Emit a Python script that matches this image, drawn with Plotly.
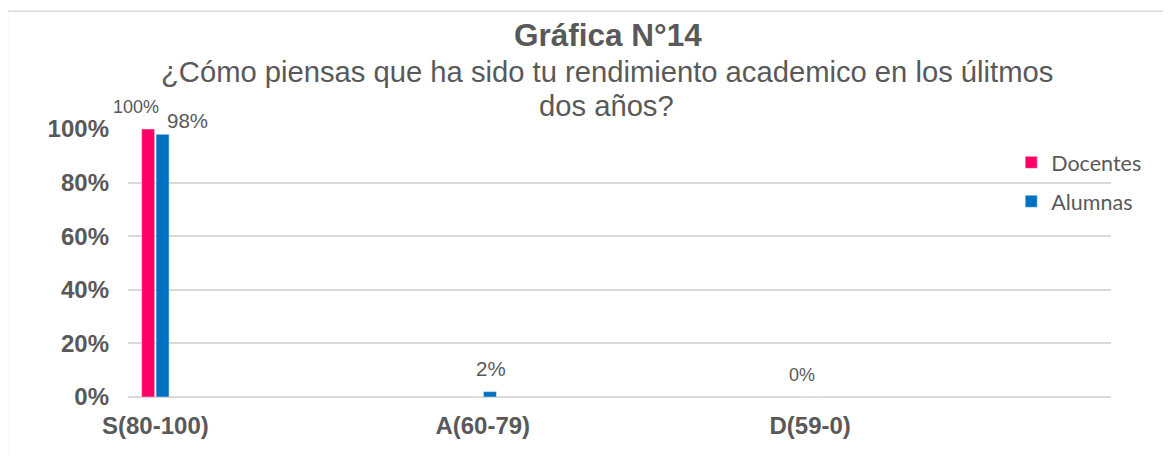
import plotly.graph_objects as go

categories = ["S(80-100)", "A(60-79)", "D(59-0)"]
docentes = [1.00, 0.0, 0.0]
alumnas = [0.98, 0.02, 0.0]
docentes_labels = ["100%", "", "0%"]
alumnas_labels = ["98%", "2%", ""]
y_ticks = [0, 0.2, 0.4, 0.6, 0.8, 1.0]
y_tick_labels = ["0%", "20%", "40%", "60%", "80%", "100%"]

title_text = "Gráfica N°14"
subtitle_lines = ["¿Cómo piensas que ha sido tu rendimiento academico en los úlitmos", "dos años?"]

PINK = "#FF0066"
BLUE = "#0070C0"
TXT = "#595959"
GRID = "#D9D9D9"
FONT = "Liberation Sans, Arial, sans-serif"

fig = go.Figure()
fig.add_trace(go.Bar(name="Docentes", x=categories, y=docentes, marker_color=PINK,
                     legendgroup="d"))
fig.add_trace(go.Bar(name="Alumnas", x=categories, y=alumnas, marker_color=BLUE,
                     legendgroup="a"))

annotations = []
label_style = {
    ("Docentes", 0): dict(xshift=-19, yshift=22, size=18),
    ("Alumnas", 0): dict(xshift=32, yshift=14, size=20.5),
    ("Alumnas", 1): dict(xshift=8, yshift=23, size=20.5),
    ("Docentes", 2): dict(xshift=-8, yshift=22, size=18),
}
for name, vals, labs in (("Docentes", docentes, docentes_labels), ("Alumnas", alumnas, alumnas_labels)):
    for i, (c, v, t) in enumerate(zip(categories, vals, labs)):
        if not t:
            continue
        st = label_style[(name, i)]
        annotations.append(dict(x=c, y=v, xref="x", yref="y", text=t, showarrow=False,
                                xanchor="center", yanchor="middle",
                                xshift=st["xshift"], yshift=st["yshift"],
                                font=dict(family=FONT, size=st["size"], color=TXT)))

annotations.append(dict(x=0.4885, y=1.349, xref="paper", yref="paper", text="<b>" + title_text + "</b>",
                        showarrow=False, xanchor="center", yanchor="middle",
                        font=dict(family=FONT, size=31.5, color=TXT)))
for line, yy in zip(subtitle_lines, [1.211, 1.087]):
    annotations.append(dict(x=0.487, y=yy, xref="paper", yref="paper", text=line,
                            showarrow=False, xanchor="center", yanchor="middle",
                            font=dict(family=FONT, size=29.2, color=TXT)))

# page body has an 8px margin: figure is offset by (8, 8)
fig.update_layout(
    width=1155, height=446,
    margin=dict(l=120, r=52.3, t=121.3, b=57.3),
    paper_bgcolor="white", plot_bgcolor="white",
    barmode="group", bargap=0.912, bargroupgap=0.1,
    showlegend=True,
    legend=dict(x=0.8985, y=0.952, xanchor="left", yanchor="top",
                font=dict(family="Lato, Carlito, Calibri, sans-serif", size=21.5, color=TXT),
                tracegroupgap=8, traceorder="grouped", bgcolor="rgba(0,0,0,0)"),
    annotations=annotations,
    shapes=[dict(type="rect", xref="paper", yref="paper",
                 x0=(7.5 - 128) / 982.7, x1=(1190 - 128) / 982.7,
                 y0=(396.7 - 480) / 267.4, y1=(396.7 - 11.7) / 267.4,
                 line=dict(color=GRID, width=1.5), layer="below")],
)
fig.update_xaxes(type="category", range=[-0.0836, 2.919], showgrid=False,
                 showline=False, zeroline=False, ticks="",
                 tickprefix="<b>", ticksuffix="</b>",
                 tickfont=dict(family=FONT, size=24, color=TXT), ticklabelstandoff=12)
fig.update_yaxes(range=[0, 1.0], tickvals=y_ticks,
                 ticktext=["<b>" + t + "</b>" for t in y_tick_labels],
                 showgrid=True, gridcolor=GRID, gridwidth=1.5, zeroline=True,
                 zerolinecolor=GRID, zerolinewidth=1.5, showline=False, ticks="",
                 tickfont=dict(family=FONT, size=24, color=TXT), ticklabelstandoff=18)

fig.write_html("out.html")
